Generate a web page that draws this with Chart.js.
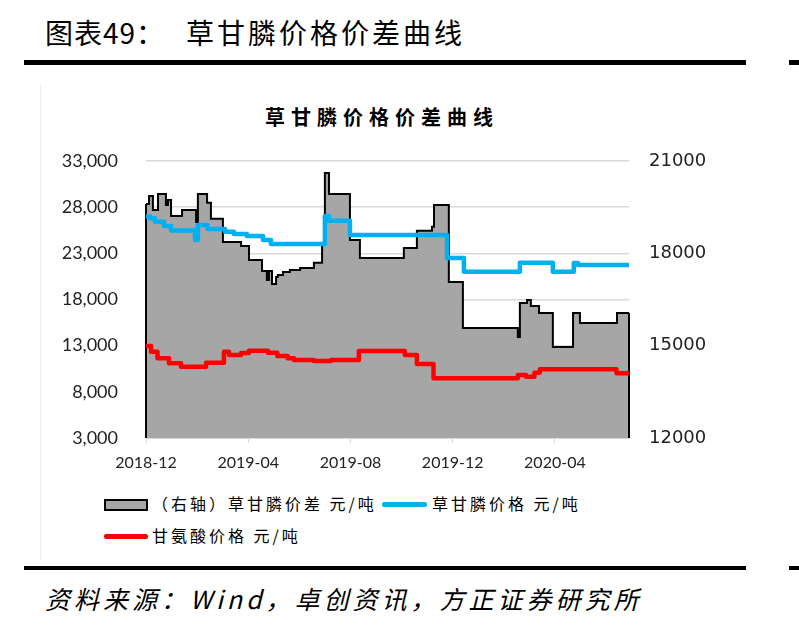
<!DOCTYPE html>
<html>
<head>
<meta charset="utf-8">
<script src="https://cdn.jsdelivr.net/npm/chart.js@4.4.0/dist/chart.umd.min.js"></script>
<style>
  body { margin: 0; background: #fff; font-family: "Noto Sans CJK SC", sans-serif; }
  #page { position: relative; width: 799px; height: 625px; overflow: hidden; }
  .abs { position: absolute; white-space: nowrap; }
  .bar { position: absolute; background: #000; }
  canvas { position: absolute; left: 0; top: 0; }
</style>
</head>
<body>
<div id="page">
  <div class="abs" style="left:45px;top:12px;font-size:28px;letter-spacing:1px;">图表49：</div>
  <div class="abs" style="left:186px;top:12px;font-size:28px;letter-spacing:3px;">草甘膦价格价差曲线</div>
  <div class="bar" style="left:24px;top:60px;width:722px;height:5px;"></div>
  <div class="bar" style="left:789px;top:60px;width:10px;height:5px;"></div>
  <div class="abs" style="left:40px;top:85px;height:475px;border-left:1px solid #ececec;"></div>
  <div class="abs" style="left:265px;top:102px;font-size:20px;font-weight:700;letter-spacing:6px;">草甘膦价格价差曲线</div>

  <!-- legend -->
  <div class="abs" style="left:104px;top:499px;width:40px;height:8px;background:#a6a6a6;border:2px solid #000;"></div>
  <div class="abs" style="left:152px;top:491px;font-size:16px;letter-spacing:3px;">（右轴）草甘膦价差 元/吨</div>
  <div class="abs" style="left:382px;top:502px;width:45px;height:5px;background:#00b0f0;border-radius:2px;"></div>
  <div class="abs" style="left:432px;top:491px;font-size:16px;letter-spacing:3px;">草甘膦价格 元/吨</div>
  <div class="abs" style="left:104px;top:534px;width:44px;height:5px;background:#ff0000;border-radius:2px;"></div>
  <div class="abs" style="left:152px;top:523px;font-size:16px;letter-spacing:3px;">甘氨酸价格 元/吨</div>

  <div class="bar" style="left:24px;top:566px;width:722px;height:4px;"></div>
  <div class="bar" style="left:789px;top:566px;width:10px;height:4px;"></div>
  <div class="abs" style="left:45px;top:580px;font-size:25px;font-style:italic;letter-spacing:4px;">资料来源：Wind，卓创资讯，方正证券研究所</div>

  <canvas id="chart" width="799" height="625"></canvas>
</div>
<script>
// months counted from 2018-12
var xTickPos = [0, 4, 8, 12, 16];
var xTickLabels = ['2018-12', '2019-04', '2019-08', '2019-12', '2020-04'];

// 草甘膦价差 (right axis)
var spreadMonth = [0, 0.12, 0.27, 0.47, 0.78, 0.86, 0.98, 1.41, 1.96, 2.03, 2.39, 2.54, 3.01, 3.72, 4.03, 4.54, 4.73, 4.81, 4.93, 5.09, 5.16, 5.36, 5.63, 6.03, 6.57, 6.89, 7.0, 7.16, 7.98, 8.37, 10.09, 10.6, 11.19, 11.27, 11.85, 12.4, 14.55, 14.63, 14.91, 15.06, 15.38, 15.92, 16.71, 16.98, 18.43, 18.9];
var spreadValue = [19600, 19860, 19410, 19930, 19570, 19730, 19210, 19410, 19020, 19930, 19640, 19120, 18370, 18240, 17780, 17430, 17130, 17430, 17000, 17230, 17300, 17390, 17460, 17520, 17690, 18270, 20610, 19930, 18430, 17850, 18170, 18730, 18860, 19570, 17070, 15570, 15280, 16390, 16480, 16290, 16060, 14960, 16060, 15740, 16060, 16060];

// 草甘膦价格
var glyphosateMonth = [0, 0.16, 0.35, 0.7, 0.98, 1.92, 2.03, 2.41, 3.09, 3.44, 3.95, 4.58, 4.89, 7.0, 7.16, 7.98, 11.78, 12.44, 14.63, 15.92, 16.74, 16.9, 18.9];
var glyphosateValue = [27000, 26800, 26430, 25960, 25470, 24440, 26070, 25640, 25340, 25090, 24880, 24440, 24010, 27040, 26530, 24990, 22490, 21010, 21990, 21010, 21950, 21740, 21740];

// 甘氨酸价格
var glycineMonth = [0, 0.2, 0.45, 0.9, 1.37, 2.35, 3.05, 3.25, 3.72, 4.03, 4.77, 5.14, 5.54, 5.79, 6.57, 7.24, 8.33, 10.13, 10.6, 11.25, 14.55, 14.87, 15.2, 15.41, 18.41, 18.9];
var glycineValue = [12960, 12350, 11630, 11090, 10720, 11150, 12350, 11990, 12210, 12460, 12240, 11880, 11630, 11450, 11340, 11450, 12420, 11990, 11010, 9470, 9820, 9640, 10070, 10440, 10010, 10010];

function pts(xs, ys) {
  return xs.map(function(x, i) { return {x: x, y: ys[i]}; });
}

// area outline: the two vertical sides down to the axis
var areaEdges = {
  id: 'areaEdges',
  afterDatasetDraw: function(chart, args) {
    if (args.index !== 0) return;
    var ys = chart.scales.y1, c = chart.ctx;
    var first = args.meta.data[0], last = args.meta.data[args.meta.data.length - 1];
    c.save();
    c.strokeStyle = '#000';
    c.lineWidth = 2;
    c.beginPath();
    c.moveTo(first.x, first.y); c.lineTo(first.x, ys.bottom);
    c.moveTo(last.x, last.y); c.lineTo(last.x, ys.bottom);
    c.stroke();
    c.restore();
  }
};

var ctx = document.getElementById('chart').getContext('2d');
var chart = new Chart(ctx, {
  type: 'line',
  data: {
    datasets: [{
      label: '（右轴）草甘膦价差 元/吨',
      data: pts(spreadMonth, spreadValue),
      yAxisID: 'y1',
      stepped: true,
      borderColor: '#000',
      borderWidth: 2,
      backgroundColor: '#a6a6a6',
      fill: 'start',
      pointRadius: 0,
      order: 3
    }, {
      label: '草甘膦价格 元/吨',
      data: pts(glyphosateMonth, glyphosateValue),
      yAxisID: 'y',
      stepped: true,
      borderColor: '#00b0f0',
      borderWidth: 4.5,
      borderJoinStyle: 'round',
      pointRadius: 0,
      fill: false,
      order: 1
    }, {
      label: '甘氨酸价格 元/吨',
      data: pts(glycineMonth, glycineValue),
      yAxisID: 'y',
      stepped: true,
      borderColor: '#ff0000',
      borderWidth: 4.5,
      borderJoinStyle: 'round',
      pointRadius: 0,
      fill: false,
      order: 2
    }]
  },
  options: {
    responsive: false,
    animation: false,
    layout: { padding: { left: 46, right: 60, top: 161, bottom: 147 } },
    plugins: { legend: { display: false }, title: { display: false }, tooltip: { enabled: false } },
    scales: {
      x: {
        type: 'linear',
        min: 0,
        max: 18.9,
        afterBuildTicks: function(s) { s.ticks = xTickPos.map(function(v) { return {value: v}; }); },
        afterFit: function(s) { s.height = 40; },
        ticks: {
          padding: 10,
          maxRotation: 0,
          autoSkip: false,
          color: '#222',
          font: { family: 'Lato', size: 16 },
          callback: function(v) { return xTickLabels[xTickPos.indexOf(v)]; }
        },
        grid: { drawOnChartArea: false, drawTicks: true, tickLength: 5, color: '#d9d9d9' },
        border: { color: '#d9d9d9' }
      },
      y: {
        position: 'left',
        min: 3000,
        max: 33000,
        afterFit: function(s) { s.width = 100; },
        ticks: {
          stepSize: 5000,
          padding: 28,
          color: '#222',
          font: { family: 'Lato', size: 18 },
          callback: function(v) { return v.toLocaleString('en-US'); }
        },
        grid: { color: '#d9d9d9', lineWidth: 1.5, drawTicks: false },
        border: { display: false }
      },
      y1: {
        position: 'right',
        min: 12000,
        max: 21000,
        afterFit: function(s) { s.width = 110; },
        ticks: {
          stepSize: 3000,
          padding: 12,
          color: '#222',
          font: { family: 'DejaVu Sans', size: 18 },
          callback: function(v) { return String(v); }
        },
        grid: { display: false, drawOnChartArea: false },
        border: { display: false }
      }
    }
  },
  plugins: [areaEdges]
});
</script>
</body>
</html>
